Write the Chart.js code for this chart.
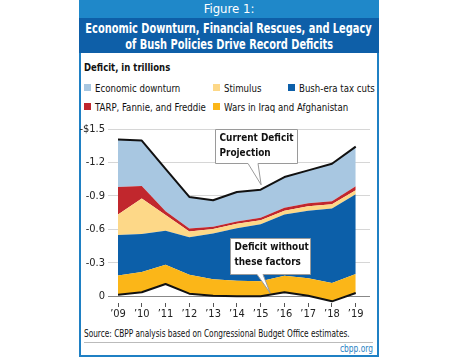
<!DOCTYPE html>
<html>
<head>
<meta charset="utf-8">
<script src="https://cdn.jsdelivr.net/npm/chart.js@4.4.1/dist/chart.umd.min.js"></script>
<style>
  body { margin: 0; background: #fff; font-family: 'DejaVu Sans Condensed', 'Liberation Sans', sans-serif; }
  .abs { position: absolute; white-space: nowrap; }
  .c { display: inline-block; transform-origin: left center; }
  #fig { left: 79px; top: 0; width: 300px; height: 18px; background: #1f88c9; color: #fff; font-size: 13px; line-height: 18px; text-align: center; }
  #title { left: 79px; top: 18px; width: 300px; height: 35px; background: #0e5fa8; color: #fff; font-size: 14px; font-weight: bold; line-height: 16px; padding-top: 2px; box-sizing: border-box; }
  #title div { display: flex; justify-content: center; }
  #title .c { transform: scaleX(0.78); transform-origin: center center; flex: none; }
  #box { left: 79px; top: 53px; width: 300px; height: 304px; border: 2px solid #1f80c4; border-top: none; box-sizing: border-box; }
  #sub { left: 84px; top: 61px; font-size: 11px; font-weight: bold; line-height: 14px; color: #111; }
  #sub .c { transform: scaleX(0.86); }
  .leg { font-size: 11px; line-height: 13px; color: #111; }
  .leg i { display: inline-block; width: 7px; height: 7px; margin-right: 4px; vertical-align: 1px; }
  .leg .c { transform: scaleX(0.87); }
  #src { left: 84px; top: 328px; font-size: 10px; line-height: 12px; color: #111; }
  #src .c { transform: scaleX(0.82); }
  #rule { left: 84px; top: 342px; width: 289px; height: 1px; background: #bbb; }
  #url { left: 340px; top: 342px; font-size: 10px; line-height: 13px; color: #1f7fc4; }
  #url .c { transform: scaleX(0.83); }
  #chart { position: absolute; left: 60px; top: 115px; }
</style>
</head>
<body>
<div class="abs" id="fig">Figure 1:</div>
<div class="abs" id="title"><div><span class="c">Economic Downturn, Financial Rescues, and Legacy</span></div><div><span class="c">of Bush Policies Drive Record Deficits</span></div></div>
<div class="abs" id="box"></div>
<div class="abs" id="sub"><span class="c">Deficit, in trillions</span></div>
<div id="legend"></div>
<canvas id="chart" width="318" height="210"></canvas>
<div class="abs" id="src"><span class="c">Source: CBPP analysis based on Congressional Budget Office estimates.</span></div>
<div class="abs" id="rule"></div>
<div class="abs" id="url"><span class="c">cbpp.org</span></div>
<script>
// years and tick labels
var years = ['’09', '’10', '’11', '’12', '’13', '’14', '’15', '’16', '’17', '’18', '’19'];
var yTickValues = [0, 0.3, 0.6, 0.9, 1.2, 1.5];
var yTickLabels = ['0', '-0.3', '-0.6', '-0.9', '-1.2', '-$1.5'];

// deficit pieces, trillions (stacked bottom to top)
var withoutFactors = [0.015, 0.036, 0.11, 0.024, 0.005, 0.0, 0.0, 0.036, 0.005, -0.045, 0.03];
var wars = [0.172, 0.181, 0.172, 0.169, 0.149, 0.14, 0.134, 0.148, 0.158, 0.164, 0.169];
var taxCuts = [0.363, 0.341, 0.306, 0.336, 0.41, 0.47, 0.513, 0.55, 0.603, 0.668, 0.716];
var stimulus = [0.184, 0.318, 0.14, 0.051, 0.039, 0.04, 0.036, 0.032, 0.042, 0.039, 0.035];
var tarp = [0.246, 0.114, 0.035, 0.029, 0.021, 0.02, 0.021, 0.027, 0.027, 0.026, 0.036];
var downturn = [0.425, 0.406, 0.38, 0.282, 0.237, 0.265, 0.252, 0.276, 0.294, 0.336, 0.356];

var colors = {
  downturn: '#a8c7e1',
  stimulus: '#fdd888',
  taxCuts: '#0c5fa9',
  tarp: '#c1272d',
  wars: '#fbb618'
};

// legend, laid out in three columns like the original
var legendItems = [
  ['Economic downturn', colors.downturn, 84, 82],
  ['Stimulus', colors.stimulus, 213, 82],
  ['Bush-era tax cuts', colors.taxCuts, 288, 82],
  ['TARP, Fannie, and Freddie', colors.tarp, 84, 101],
  ['Wars in Iraq and Afghanistan', colors.wars, 213, 101]
];
var legendEl = document.getElementById('legend');
legendItems.forEach(function (it) {
  var d = document.createElement('div');
  d.className = 'abs leg';
  d.style.left = it[2] + 'px';
  d.style.top = it[3] + 'px';
  d.innerHTML = '<i style="background:' + it[1] + '"></i><span class="c">' + it[0] + '</span>';
  legendEl.appendChild(d);
});

function pts(arr) {
  return arr.map(function (v, i) { return { x: i, y: v }; });
}

function area(label, data, color) {
  return {
    label: label,
    data: pts(data),
    backgroundColor: color,
    borderColor: 'rgba(0,0,0,0)',
    borderWidth: 0,
    fill: '-1'
  };
}

var notes = [
  { lines: ['Current Deficit', 'Projection'], box: [4.08, 1.5, 7.54, 1.195], base: [5.47, 5.89], tip: [6.02, 1.0] },
  { lines: ['Deficit without', 'these factors'], box: [4.72, 0.524, 8.08, 0.2], base: [5.85, 6.1], tip: [6.4, 0.03] }
];

var calloutPlugin = {
  id: 'callouts',
  afterDatasetsDraw: function (chart) {
    var ctx = chart.ctx, xs = chart.scales.x, ys = chart.scales.y;
    notes.forEach(function (n) {
      var l = Math.round(xs.getPixelForValue(n.box[0])) + 0.5;
      var t = Math.round(ys.getPixelForValue(n.box[1])) + 0.5;
      var r = Math.round(xs.getPixelForValue(n.box[2])) + 0.5;
      var b = Math.round(ys.getPixelForValue(n.box[3])) + 0.5;
      ctx.save();
      ctx.beginPath();
      ctx.moveTo(l, t);
      ctx.lineTo(r, t);
      ctx.lineTo(r, b);
      ctx.lineTo(xs.getPixelForValue(n.base[1]), b);
      ctx.lineTo(xs.getPixelForValue(n.tip[0]), ys.getPixelForValue(n.tip[1]));
      ctx.lineTo(xs.getPixelForValue(n.base[0]), b);
      ctx.lineTo(l, b);
      ctx.closePath();
      ctx.fillStyle = '#fff';
      ctx.fill();
      ctx.strokeStyle = '#9a9a9a';
      ctx.lineWidth = 1;
      ctx.stroke();
      ctx.fillStyle = '#111';
      ctx.font = "bold 11px 'DejaVu Sans Condensed', sans-serif";
      ctx.textBaseline = 'middle';
      n.lines.forEach(function (s, i) {
        ctx.save();
        ctx.translate(l + 4, t + 9 + i * 14.5);
        ctx.scale(0.9, 1);
        ctx.fillText(s, 0, 0);
        ctx.restore();
      });
      ctx.restore();
    });
  }
};

Chart.defaults.font.family = "'DejaVu Sans Condensed', sans-serif";
Chart.defaults.color = '#222';

var ctx = document.getElementById('chart').getContext('2d');
new Chart(ctx, {
  type: 'line',
  data: {
    datasets: [
      {
        label: 'Deficit without these factors',
        data: pts(withoutFactors),
        borderColor: '#111',
        borderWidth: 2,
        fill: false
      },
      area('Wars in Iraq and Afghanistan', wars, colors.wars),
      area('Bush-era tax cuts', taxCuts, colors.taxCuts),
      area('Stimulus', stimulus, colors.stimulus),
      area('TARP, Fannie, and Freddie', tarp, colors.tarp),
      {
        label: 'Economic downturn',
        data: pts(downturn),
        backgroundColor: colors.downturn,
        borderColor: '#111',
        borderWidth: 2,
        fill: '-1'
      }
    ]
  },
  options: {
    responsive: false,
    animation: false,
    devicePixelRatio: 1,
    elements: {
      point: { radius: 0 },
      line: { tension: 0, borderJoinStyle: 'round' }
    },
    layout: { padding: { top: 14, left: 0, right: 8, bottom: 0 } },
    plugins: {
      legend: { display: false },
      tooltip: { enabled: false }
    },
    scales: {
      x: {
        type: 'linear',
        min: 0,
        max: 10.6,
        afterBuildTicks: function (s) {
          s.ticks = years.map(function (y, i) { return { value: i }; });
        },
        afterFit: function (s) { s.height = 22; },
        border: { display: false },
        grid: { drawOnChartArea: false, tickLength: 4, color: '#555' },
        ticks: {
          autoSkip: false,
          maxRotation: 0,
          padding: 1,
          font: { size: 11 },
          callback: function (v, i) { return years[i]; }
        }
      },
      y: {
        stacked: 'single',
        min: -0.06,
        max: 1.5,
        afterBuildTicks: function (s) {
          s.ticks = yTickValues.map(function (v) { return { value: v }; });
        },
        afterFit: function (s) { s.width = 58; },
        border: { display: false },
        grid: {
          tickLength: 10,
          color: function (c) { return c.tick && c.tick.value === 0 ? '#888' : '#d6d6d6'; }
        },
        ticks: {
          padding: 3,
          font: { size: 11 },
          callback: function (v, i) { return yTickLabels[i]; }
        }
      }
    }
  },
  plugins: [calloutPlugin]
});
</script>
</body>
</html>
